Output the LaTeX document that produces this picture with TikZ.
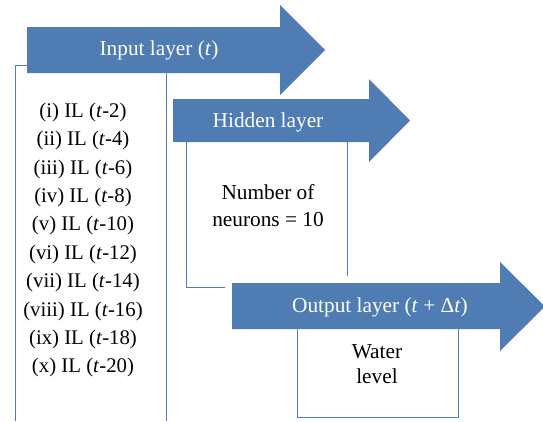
\documentclass[tikz,border=0pt]{standalone}
\usepackage{fontspec}
\setmainfont{Liberation Serif}
\usepackage{tikz}

\definecolor{layerblue}{RGB}{79,124,178}
\definecolor{lineblue}{RGB}{84,126,186}

\tikzset{
    layertext/.style={text=white,font=\fontsize{21.3}{25}\selectfont},
    boxtext/.style={text=black,align=center,font=\fontsize{20.8}{28.4}\selectfont},
    boxline/.style={draw=lineblue,line width=0.9pt}
}

\begin{document}
\begin{tikzpicture}[x=1pt,y=-1pt]
        \useasboundingbox (0,0) rectangle (543,421);

        % Layer arrows
        \path [fill=layerblue] (27,27) -- (280,27) -- (280,5) -- (325,50)
            -- (280,95) -- (280,73) -- (27,73) -- cycle;
        \path [fill=layerblue] (173,99) -- (369,99) -- (369,79) -- (410,120.5)
            -- (369,162) -- (369,142) -- (173,142) -- cycle;
        \path [fill=layerblue] (232,283) -- (500,283) -- (500,262) -- (545,306.5)
            -- (500,351) -- (500,329) -- (232,329) -- cycle;

        % Box outlines
        \draw [boxline] (27,65) -- (15,65) -- (15,421);
        \draw [boxline] (166,73) -- (166,421);
        \draw [boxline] (186,142) -- (186,287) -- (225,287);
        \draw [boxline] (347,142) -- (347,276);
        \draw [boxline] (297,329) -- (297,417) -- (458,417) -- (458,329);

        % Labels
        \node [layertext] (input) at (159,50) {Input layer (\textit{t})};
        \node [layertext] (hidden) at (268,122) {Hidden layer};
        \node [layertext] (output) at (380,307)
            {Output layer (\textit{t} + Δ\textit{t})};

        \node [boxtext] (lags) at (83,240) {%
            (i) IL (\textit{t}-2)\\
            (ii) IL (\textit{t}-4)\\
            (iii) IL (\textit{t}-6)\\
            (iv) IL (\textit{t}-8)\\
            (v) IL (\textit{t}-10)\\
            (vi) IL (\textit{t}-12)\\
            (vii) IL (\textit{t}-14)\\
            (viii) IL (\textit{t}-16)\\
            (ix) IL (\textit{t}-18)\\
            (x) IL (\textit{t}-20)};
        \node [boxtext,font=\fontsize{21.3}{27}\selectfont] (neurons) at (268,206)
            {Number of\\neurons = 10};
        \node [boxtext,font=\fontsize{21.3}{25}\selectfont] (water) at (377,364)
            {Water\\level};

\end{tikzpicture}
\end{document}
